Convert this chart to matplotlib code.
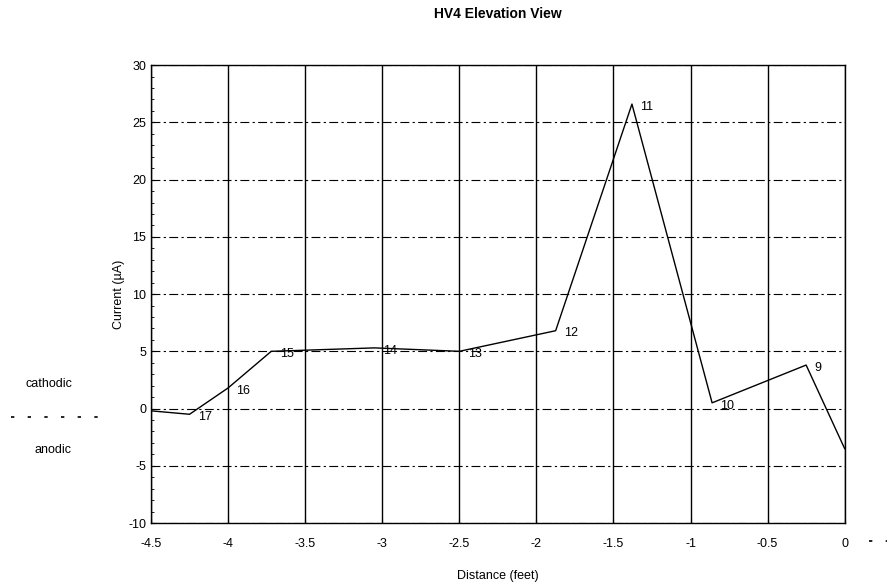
import matplotlib.pyplot as plt
import matplotlib.lines as mlines

# valori
distanza = [-4.5, -4.25, -4.0, -3.72, -3.05, -2.5, -1.875, -1.38, -0.86, -0.25, 0.0]
corrente = [-0.2, -0.5, 1.8, 5.0, 5.3, 5.0, 6.8, 26.6, 0.5, 3.8, -3.5]
etichette = ['', '17', '16', '15', '14', '13', '12', '11', '10', '9', '']

x_ticks = [-4.5, -4, -3.5, -3, -2.5, -2, -1.5, -1, -0.5, 0]
y_ticks = [-10, -5, 0, 5, 10, 15, 20, 25, 30]

plt.rcParams['font.family'] = ['Liberation Sans', 'DejaVu Sans']
plt.rcParams['axes.unicode_minus'] = False

fig = plt.figure(figsize=(8.91, 5.87), dpi=100)
ax = fig.add_axes([0.1695, 0.109, 0.7785, 0.78])

# griglia
for xv in x_ticks:
    ax.axvline(xv, color='black', lw=1.0, zorder=1)
for yv in y_ticks:
    ax.axhline(yv, color='black', lw=0.8, ls=(0, (8, 3, 2, 3)), zorder=1)

ax.plot(distanza, corrente, color='black', lw=1.0, zorder=3)

for xv, yv, lab in zip(distanza, corrente, etichette):
    if lab:
        ax.annotate(lab, (xv, yv), xytext=(6, -2), textcoords='offset points',
                    fontsize=9, ha='left', va='center')

ax.set_xlim(-4.5, 0)
ax.set_ylim(-10, 30)
ax.set_xticks(x_ticks)
ax.set_xticklabels(['-4.5', '-4', '-3.5', '-3', '-2.5', '-2', '-1.5', '-1', '-0.5', '0'])
ax.set_yticks(y_ticks)
ax.set_yticks(range(-10, 31), minor=True)
ax.tick_params(axis='both', labelsize=9, direction='in', length=3)
ax.tick_params(axis='x', pad=11)
ax.tick_params(axis='y', which='minor', direction='in', length=2)
for sp in ax.spines.values():
    sp.set_linewidth(1.0)

ax.set_title('HV4 Elevation View', fontsize=10, fontweight='bold', pad=34)
ax.set_xlabel('Distance (feet)', fontsize=9, labelpad=14)
ax.set_ylabel('Current (\u00b5A)', fontsize=9, labelpad=2)

# annotazioni a sinistra
fig.text(0.055, 0.345, 'cathodic', fontsize=9, ha='center', va='center')
fig.text(0.06, 0.233, 'anodic', fontsize=9, ha='center', va='center')
fig.add_artist(mlines.Line2D([0.012, 0.125], [0.289, 0.289], color='black',
                             lw=1.2, ls=(0, (2, 8)), transform=fig.transFigure))
fig.add_artist(mlines.Line2D([0.975, 0.995], [0.078, 0.078], color='black',
                             lw=1.2, ls=(0, (2, 8)), transform=fig.transFigure))

plt.savefig('out.png', dpi=100)
